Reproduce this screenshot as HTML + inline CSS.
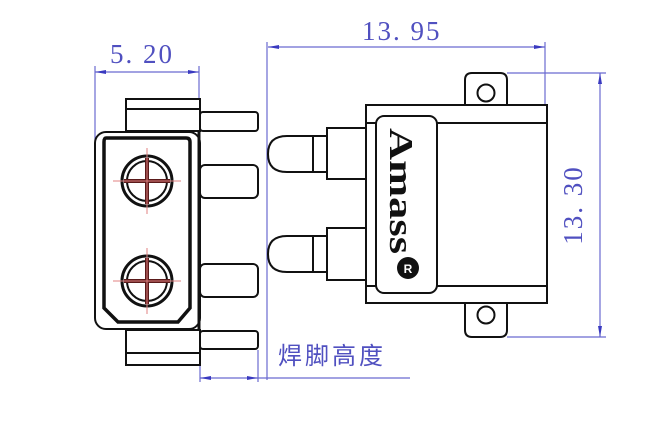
<!DOCTYPE html>
<html><head><meta charset="utf-8"><style>
html,body{margin:0;padding:0;background:#fff;}
svg{display:block;}
</style></head><body>
<svg width="656" height="432" viewBox="0 0 656 432" xmlns="http://www.w3.org/2000/svg">
<g stroke="#6a6ad0" stroke-width="1.2" fill="none">
  <line x1="95" y1="66" x2="95" y2="140"/>
  <line x1="199" y1="66" x2="199" y2="100"/>
  <line x1="95" y1="72" x2="199" y2="72"/>
  <line x1="267" y1="42" x2="267" y2="380"/>
  <line x1="545" y1="42" x2="545" y2="106"/>
  <line x1="268" y1="47" x2="545" y2="47"/>
  <line x1="507" y1="73" x2="606" y2="73"/>
  <line x1="507" y1="337" x2="606" y2="337"/>
  <line x1="600" y1="73" x2="600" y2="337"/>
  <line x1="200" y1="365" x2="200" y2="382"/>
  <line x1="258" y1="350" x2="258" y2="382"/>
  <line x1="200" y1="378" x2="410" y2="378"/>
</g>
<g fill="#3a3ac0">
  <polygon points="95,72 106,70 106,74"/><polygon points="199,72 188,70 188,74"/>
  <polygon points="268,47 279,45 279,49"/><polygon points="545,47 534,45 534,49"/>
  <polygon points="600,73 598,84 602,84"/><polygon points="600,337 598,326 602,326"/>
  <polygon points="200,378 211,376 211,380"/><polygon points="258,378 247,376 247,380"/>
</g>
<g fill="#5050c0" font-family="Liberation Serif, serif" font-size="27">
  <text x="110" y="63" letter-spacing="2">5. 20</text>
  <text x="362" y="40" letter-spacing="2">13. 95</text>
  <text transform="translate(582,205) rotate(-90)" text-anchor="middle" letter-spacing="2">13. 30</text>
</g>
<text x="278" y="364" fill="#5050c0" font-family="Liberation Sans, 'Noto Sans CJK SC', sans-serif" font-size="24" letter-spacing="3">焊脚高度</text>

<g stroke="#111" stroke-width="2" fill="#fff">
  <rect x="126" y="99" width="74" height="32"/>
  <line x1="126" y1="109" x2="200" y2="109"/>
  <rect x="126" y="330" width="74" height="35"/>
  <line x1="126" y1="353" x2="200" y2="353"/>
  <rect x="200" y="112" width="58" height="19" rx="3"/>
  <rect x="200" y="165" width="58" height="33" rx="5"/>
  <rect x="200" y="264" width="58" height="33" rx="5"/>
  <rect x="200" y="331" width="58" height="18" rx="3"/>
  <rect x="95" y="132" width="105" height="197" rx="11"/>
  <path d="M106,138 H186 Q190,138 190,142 V308 L178,322 H118 L104,308 V142 Q104,138 106,138 Z" stroke-width="3.5"/>
  <line x1="199" y1="131" x2="199" y2="330" stroke-width="3"/>
  <circle cx="147" cy="181" r="25" stroke-width="3"/>
  <circle cx="147" cy="181" r="20"/>
  <circle cx="147" cy="281" r="25" stroke-width="3"/>
  <circle cx="147" cy="281" r="20"/>
</g>
<g stroke="#5a1a1a" stroke-width="4">
  <line x1="124" y1="181" x2="170" y2="181"/><line x1="147" y1="158" x2="147" y2="204"/>
  <line x1="124" y1="281" x2="170" y2="281"/><line x1="147" y1="258" x2="147" y2="304"/>
</g>
<g stroke="#e08080" stroke-width="1">
  <line x1="113" y1="181" x2="181" y2="181"/><line x1="147" y1="148" x2="147" y2="214"/>
  <line x1="113" y1="281" x2="181" y2="281"/><line x1="147" y1="248" x2="147" y2="314"/>
</g>

<g stroke="#111" stroke-width="2" fill="#fff">
  <path d="M465,105 V80 Q465,73 472,73 H500 Q507,73 507,80 V105"/>
  <circle cx="486" cy="93" r="8.5"/>
  <path d="M465,303 V330 Q465,337 472,337 H500 Q507,337 507,330 V303"/>
  <circle cx="486" cy="315" r="8.5"/>
  <path d="M327,136 H287 Q268,136 268,154 Q268,172 287,172 H327"/>
  <line x1="313" y1="136" x2="313" y2="172"/>
  <rect x="327" y="128" width="39" height="51"/>
  <path d="M327,236 H287 Q268,236 268,254 Q268,272 287,272 H327"/>
  <line x1="313" y1="236" x2="313" y2="272"/>
  <rect x="327" y="228" width="39" height="52"/>
  <rect x="366" y="105" width="181" height="198"/>
  <line x1="366" y1="123" x2="547" y2="123"/>
  <line x1="366" y1="286" x2="547" y2="286"/>
  <rect x="376" y="116" width="61" height="177" rx="8"/>
</g>
<text transform="translate(390,128) rotate(90)" font-family="Liberation Serif, serif" font-weight="bold" font-size="34" fill="#111" textLength="126" lengthAdjust="spacingAndGlyphs">Amass</text>
<circle cx="408" cy="268" r="11" fill="#111"/>
<text x="408" y="273" text-anchor="middle" font-family="Liberation Sans, sans-serif" font-size="12" font-weight="bold" fill="#fff">R</text>
</svg>
</body></html>
